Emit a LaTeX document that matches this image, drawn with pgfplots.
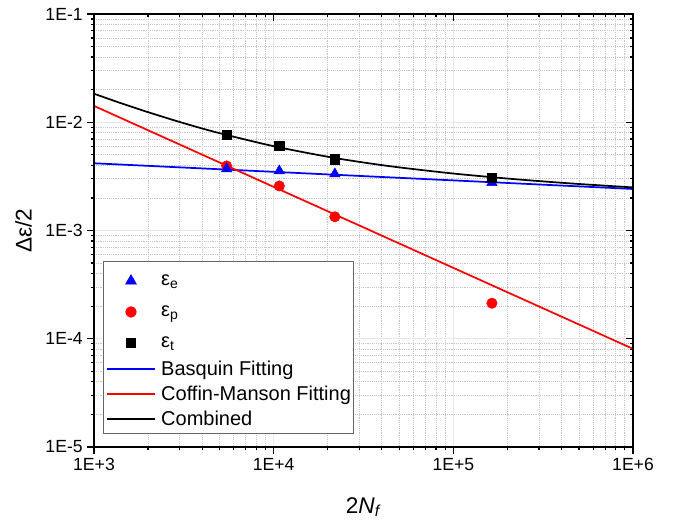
\documentclass[border=0pt]{standalone}
\usepackage{fontspec}
\setmainfont{Liberation Sans}
\usepackage{pgfplots}
\pgfplotsset{compat=1.18}

\begin{document}
\begin{tikzpicture}
\begin{axis}[name=ax,
  scale only axis, width=404.25pt, height=324.75pt,
  xmode=log, ymode=log,
  xmin=1e3, xmax=1e6, ymin=1e-5, ymax=1e-1,
  xtick={1e3,1e4,1e5,1e6},
  ytick={1e-5,1e-4,1e-3,1e-2,1e-1},
  minor xtick={2e3,3e3,4e3,5e3,6e3,7e3,8e3,9e3,2e4,3e4,4e4,5e4,6e4,7e4,8e4,9e4,2e5,3e5,4e5,5e5,6e5,7e5,8e5,9e5},
  minor ytick={2e-5,3e-5,4e-5,5e-5,6e-5,7e-5,8e-5,9e-5,2e-4,3e-4,4e-4,5e-4,6e-4,7e-4,8e-4,9e-4,2e-3,3e-3,4e-3,5e-3,6e-3,7e-3,8e-3,9e-3,2e-2,3e-2,4e-2,5e-2,6e-2,7e-2,8e-2,9e-2},
  major tick length=5pt, minor tick length=2.5pt,
  every tick/.style={black, line width=0.9pt},
  axis line style={line width=1.2pt},
  xticklabels={1E+3,1E+4,1E+5,1E+6},
  yticklabels={1E-5,1E-4,1E-3,1E-2,1E-1},
  xtick pos=left, ytick pos=left, tick align=outside,
  grid=both,
  major grid style={gray!18, line width=0.8pt},
  minor grid style={gray!45, densely dotted, line width=0.6pt},
  ticklabel style={font=\fontsize{13.2}{15}\selectfont},
  xlabel={2\textit{N}\textsubscript{\textit{f}}},
  ylabel={Δε/2},
  label style={font=\fontsize{17}{20}\selectfont},
  xlabel style={at={(axis description cs:0.5,-0.1386)}, anchor=center},
  ylabel style={at={(axis description cs:-0.1308,0.5)}, anchor=center},
  legend style={at={(axis description cs:0.0167,0.03)}, anchor=south west,
    draw=gray!80!black, line width=0.7pt, fill=white,
    inner xsep=2pt, inner ysep=1.5pt,
    font=\fontsize{15}{18}\selectfont,
    nodes={inner sep=0pt}, column sep=4pt, row sep=0pt},
  legend cell align=left,
  legend image code/.code={\draw[mark repeat=2,mark phase=2,#1] plot coordinates {(0pt,0pt) (18pt,0pt) (36pt,0pt)};},
]
\addlegendimage{only marks, mark=triangle*, mark size=4.5pt, blue, yshift=-1.5pt}
\addlegendentry[text height=16.6pt, text depth=6.6pt]{ε\textsubscript{e}}
\addlegendimage{only marks, mark=*, mark size=3.9pt, red, yshift=-1.5pt}
\addlegendentry[text height=16.6pt, text depth=6.6pt]{ε\textsubscript{p}}
\addlegendimage{only marks, mark=square*, mark size=3.6pt, black, yshift=-1.5pt}
\addlegendentry[text height=16.6pt, text depth=6.6pt]{ε\textsubscript{t}}
\addlegendimage{blue, line width=1.3pt}
\addlegendentry[text height=14.4pt, text depth=4.4pt]{Basquin Fitting}
\addlegendimage{red, line width=1.3pt}
\addlegendentry[text height=14.4pt, text depth=4.4pt]{Coffin-Manson Fitting}
\addlegendimage{black, line width=1.3pt}
\addlegendentry[text height=14.4pt, text depth=4.4pt]{Combined}

% fitted lines
\addplot[blue, line width=1.3pt, forget plot] coordinates {(1e3,4.18e-3) (1e6,2.42e-3)};
\addplot[red, line width=1.3pt, forget plot] coordinates {(1e3,1.416e-2) (1e6,8.07e-5)};
\addplot[black, line width=1.3pt, smooth, forget plot] coordinates {
  (1000,1.834e-2) (1413,1.500e-2) (2000,1.239e-2) (3162,9.80e-3)
  (5000,7.93e-3) (10000,6.01e-3) (20000,4.80e-3) (31623,4.25e-3)
  (50000,3.83e-3) (100000,3.36e-3) (200000,3.02e-3) (316228,2.843e-3)
  (500000,2.69e-3) (1000000,2.50e-3)};

% measured points
\addplot[only marks, mark=*, mark size=3.9pt, red, forget plot] coordinates {
  (5470,3.95e-3) (10750,2.58e-3) (21900,1.34e-3) (164000,2.13e-4)};
\addplot[only marks, mark=triangle*, mark size=4.5pt, blue, forget plot] coordinates {
  (5470,3.71e-3) (10750,3.55e-3) (21900,3.33e-3) (164000,2.77e-3)};
\addplot[only marks, mark=square*, mark size=3.6pt, black, forget plot] coordinates {
  (5470,7.64e-3) (10750,6.08e-3) (21900,4.55e-3) (164000,3.08e-3)};
\end{axis}

\begin{axis}[
  scale only axis, width=404.25pt, height=324.75pt,
  xmode=log, ymode=log,
  xmin=1e3, xmax=1e6, ymin=1e-5, ymax=1e-1,
  xtick={1e3,1e4,1e5,1e6},
  ytick={1e-5,1e-4,1e-3,1e-2,1e-1},
  minor xtick={2e3,3e3,4e3,5e3,6e3,7e3,8e3,9e3,2e4,3e4,4e4,5e4,6e4,7e4,8e4,9e4,2e5,3e5,4e5,5e5,6e5,7e5,8e5,9e5},
  minor ytick={2e-5,3e-5,4e-5,5e-5,6e-5,7e-5,8e-5,9e-5,2e-4,3e-4,4e-4,5e-4,6e-4,7e-4,8e-4,9e-4,2e-3,3e-3,4e-3,5e-3,6e-3,7e-3,8e-3,9e-3,2e-2,3e-2,4e-2,5e-2,6e-2,7e-2,8e-2,9e-2},
  major tick length=5pt, minor tick length=2.5pt,
  every tick/.style={black, line width=0.9pt},
  axis line style={line width=1.2pt},
  xticklabels={}, yticklabels={},
  xtick pos=right, ytick pos=right, tick align=inside]
\end{axis}

\pgfresetboundingbox
\path[use as bounding box] (ax.south west) ++(-70.5pt,-56.25pt) rectangle ([xshift=33.75pt,yshift=10.5pt]ax.north east);
\end{tikzpicture}
\end{document}
